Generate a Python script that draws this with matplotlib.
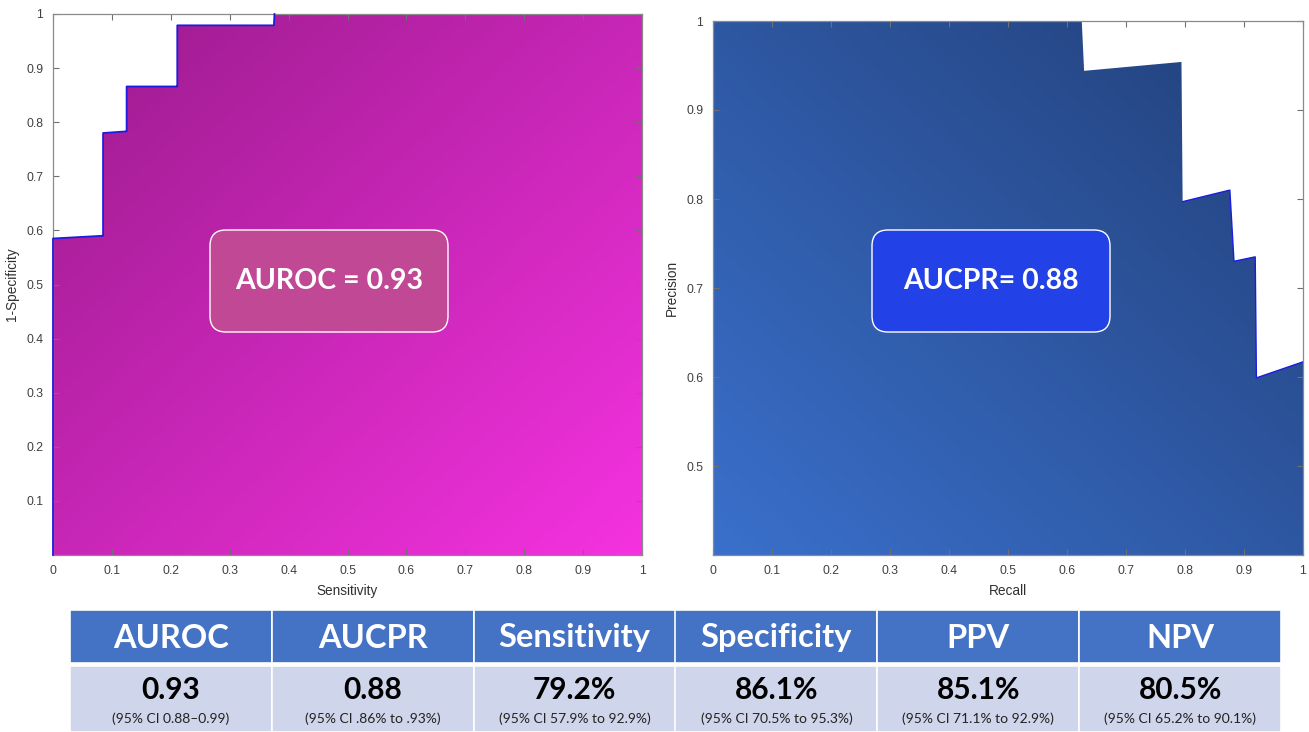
import numpy as np
import matplotlib
matplotlib.use("Agg")
import matplotlib.pyplot as plt
from matplotlib.patches import Polygon, FancyBboxPatch, Rectangle
from matplotlib.ticker import FixedLocator, FixedFormatter

# ---------------- data ----------------
roc_x = [0.0, 0.0, 0.083, 0.085, 0.085, 0.124, 0.125, 0.125, 0.21, 0.211, 0.211, 0.375, 0.376, 1.0]
roc_y = [0.0, 0.585, 0.59, 0.59, 0.78, 0.783, 0.783, 0.866, 0.866, 0.866, 0.979, 0.979, 1.0, 1.0]

pr_recall = [0.0, 0.625, 0.629, 0.794, 0.796, 0.876, 0.883, 0.919, 0.921, 1.0]
pr_precision = [1.0, 1.0, 0.944, 0.954, 0.797, 0.81, 0.73, 0.735, 0.599, 0.617]

auroc_label = "AUROC = 0.93"
aucpr_label = "AUCPR= 0.88"

metric_names = ["AUROC", "AUCPR", "Sensitivity", "Specificity", "PPV", "NPV"]
metric_values = ["0.93", "0.88", "79.2%", "86.1%", "85.1%", "80.5%"]
metric_cis = ["(95% CI 0.88\u20130.99)", "(95% CI .86% to .93%)", "(95% CI 57.9% to 92.9%)",
              "(95% CI 70.5% to 95.3%)", "(95% CI 71.1% to 92.9%)", "(95% CI 65.2% to 90.1%)"]

left_xticks = [0, 0.1, 0.2, 0.3, 0.4, 0.5, 0.6, 0.7, 0.8, 0.9, 1]
left_xlabels = ["0", "0.1", "0.2", "0.3", "0.4", "0.5", "0.6", "0.7", "0.8", "0.9", "1"]
left_yticks = [0.1, 0.2, 0.3, 0.4, 0.5, 0.6, 0.7, 0.8, 0.9, 1]
left_ylabels = ["0.1", "0.2", "0.3", "0.4", "0.5", "0.6", "0.7", "0.8", "0.9", "1"]
right_yticks = [0.5, 0.6, 0.7, 0.8, 0.9, 1]
right_ylabels = ["0.5", "0.6", "0.7", "0.8", "0.9", "1"]

# ---------------- figure ----------------
W, H = 1309, 732
fig = plt.figure(figsize=(W / 100, H / 100), dpi=100)
fig.patch.set_facecolor("white")

def px_axes(x0, y0, x1, y1):
    return fig.add_axes([x0 / W, 1 - y1 / H, (x1 - x0) / W, (y1 - y0) / H])

def style_axes(ax):
    for s in ax.spines.values():
        s.set_color("#8a8a8a")
        s.set_linewidth(0.9)
    ax.tick_params(direction="in", length=4, width=0.8, color="#707070",
                   top=True, right=True, labelsize=8.8, labelcolor="#404040", pad=7)
    for lab in ax.get_xticklabels() + ax.get_yticklabels():
        lab.set_family("Liberation Sans")

def gradient_fill(ax, xs, ys, ylo, c_a, c_b, direction):
    n = 300
    gx, gy = np.meshgrid(np.linspace(0, 1, n), np.linspace(0, 1, n))
    if direction == "tl_br":
        t = (gx + (1 - gy)) / 2.0
    else:
        t = (gx + gy) / 2.0
    ca = np.array(matplotlib.colors.to_rgb(c_a))
    cb = np.array(matplotlib.colors.to_rgb(c_b))
    img = ca[None, None, :] + t[..., None] * (cb - ca)[None, None, :]
    poly_x = list(xs) + [xs[-1], xs[0]]
    poly_y = list(ys) + [ylo, ylo]
    poly = Polygon(np.column_stack([poly_x, poly_y]), closed=True, facecolor="none",
                   edgecolor="none", transform=ax.transData)
    ax.add_patch(poly)
    im = ax.imshow(img, extent=[0, 1, ylo, 1], origin="lower", aspect="auto",
                   interpolation="bilinear", zorder=1)
    im.set_clip_path(poly)

# ---- left ROC ----
ax1 = px_axes(53, 14, 642, 555)
ax1.set_xlim(0, 1)
ax1.set_ylim(0, 1)
gradient_fill(ax1, roc_x, roc_y, 0.0, "#9a1b8c", "#f532e0", "tl_br")
ax1.plot(roc_x[:13], roc_y[:13], color="#1c1ce0", lw=1.3, zorder=3, clip_on=False)
ax1.xaxis.set_major_locator(FixedLocator(left_xticks))
ax1.xaxis.set_major_formatter(FixedFormatter(left_xlabels))
ax1.yaxis.set_major_locator(FixedLocator(left_yticks))
ax1.yaxis.set_major_formatter(FixedFormatter(left_ylabels))
style_axes(ax1)
ax1.set_xlabel("Sensitivity", fontsize=9.8, color="#303030", family="Liberation Sans", labelpad=5)
ax1.set_ylabel("1-Specificity", fontsize=9.8, color="#303030", family="Liberation Sans", labelpad=5)

# ---- right PR ----
ax2 = px_axes(713, 21, 1303, 555)
ax2.set_xlim(0, 1)
ax2.set_ylim(0.4, 1)
gradient_fill(ax2, pr_recall, pr_precision, 0.4, "#3a70cc", "#223f78", "bl_tr")
ax2.plot(pr_recall[4:], pr_precision[4:], color="#1c1ce0", lw=1.0, zorder=3)
ax2.xaxis.set_major_locator(FixedLocator(left_xticks))
ax2.xaxis.set_major_formatter(FixedFormatter(left_xlabels))
ax2.yaxis.set_major_locator(FixedLocator(right_yticks))
ax2.yaxis.set_major_formatter(FixedFormatter(right_ylabels))
style_axes(ax2)
ax2.set_xlabel("Recall", fontsize=9.8, color="#303030", family="Liberation Sans", labelpad=5)
ax2.set_ylabel("Precision", fontsize=9.8, color="#303030", family="Liberation Sans", labelpad=5)

# ---- annotation boxes (in inches, origin bottom-left) ----
def label_box(x0, y0, x1, y1, fc, text):
    bx = FancyBboxPatch((x0 / 100, (H - y1) / 100), (x1 - x0) / 100, (y1 - y0) / 100,
                        boxstyle="round,pad=0,rounding_size=0.16",
                        transform=fig.dpi_scale_trans, facecolor=fc, edgecolor="white",
                        lw=1.0, zorder=10)
    fig.add_artist(bx)
    fig.text((x0 + x1) / 2 / W, 1 - (y0 + y1) / 2 / H, text, ha="center", va="center",
             color="white", fontsize=20.5, fontweight="bold", family="Lato", zorder=11)

label_box(210, 230, 448, 332, "#c04895", auroc_label)
label_box(872, 230, 1110, 332, "#2241e6", aucpr_label)

# ---- table ----
col_edges = np.linspace(70, 1281, len(metric_names) + 1)
for i, (name, val, ci) in enumerate(zip(metric_names, metric_values, metric_cis)):
    x0, x1 = col_edges[i], col_edges[i + 1]
    fig.add_artist(Rectangle((x0 / W, 1 - 663 / H), (x1 - x0) / W, 53 / H,
                             transform=fig.transFigure, facecolor="#4472c4",
                             edgecolor="white", lw=1.2))
    fig.add_artist(Rectangle((x0 / W, 0), (x1 - x0) / W, (H - 666) / H,
                             transform=fig.transFigure, facecolor="#cfd5ea",
                             edgecolor="white", lw=1.2))
    xc = (x0 + x1) / 2 / W
    fig.text(xc, 1 - 638 / H, name, ha="center", va="center", color="white",
             fontsize=23.5, fontweight="bold", family="Lato")
    fig.text(xc, 1 - 690 / H, val, ha="center", va="center", color="black",
             fontsize=21.5, fontweight="bold", family="Lato")
    fig.text(xc, 1 - 719 / H, ci, ha="center", va="center", color="#222222",
             fontsize=10, family="Lato")

fig.savefig("out.png", dpi=100, facecolor="white")
